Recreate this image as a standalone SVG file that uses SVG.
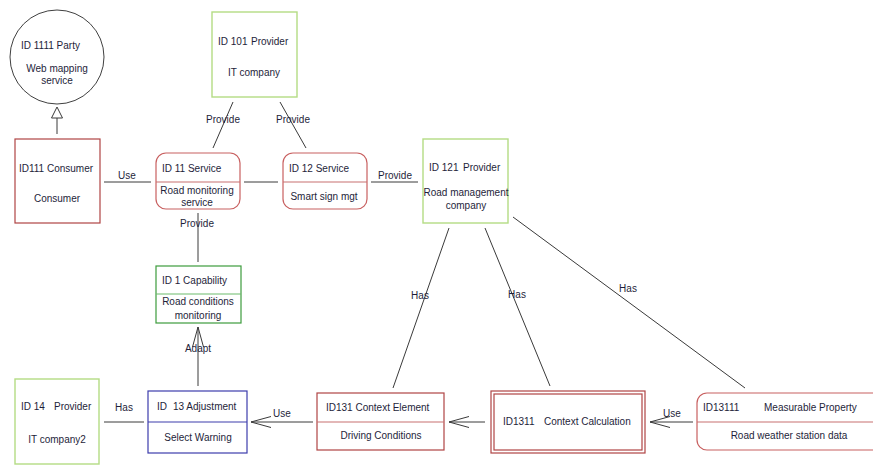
<svg xmlns="http://www.w3.org/2000/svg" width="873" height="466" viewBox="0 0 873 466">
<style>
text{font-family:"Liberation Sans",Arial,sans-serif;font-size:10px;fill:#1e1e3a}
.m{text-anchor:middle}
.red{fill:#fff;stroke:#b04444;stroke-width:1.2}
.redl{fill:#fff;stroke:#c86060;stroke-width:1.2}
.div{stroke:#c87070;stroke-width:1.2}
.grn{fill:#fff;stroke:#b4dc84;stroke-width:1.4}
.dgrn{fill:#fff;stroke:#3c9c3c;stroke-width:1.2}
.blu{fill:#fff;stroke:#3c3cac;stroke-width:1.2}
.c line{stroke:#3a3a3a;stroke-width:1}
</style>
<defs>
<marker id="open" viewBox="-21 -7 22 14" refX="0" refY="0" markerWidth="22" markerHeight="14" markerUnits="userSpaceOnUse" orient="auto">
<path d="M-20,-5.5 L0,0 L-20,5.5" fill="none" stroke="#3a3a3a" stroke-width="1"/>
</marker>
</defs>
<rect width="873" height="466" fill="#fff"/>
<g class="c" id="connectors">
<line x1="57" y1="134" x2="57" y2="118"/>
<polygon points="57,107 51.5,118 62.5,118" fill="#fff" stroke="#3a3a3a" stroke-width="1"/>
<line x1="104" y1="182" x2="151" y2="182"/>
<line x1="244" y1="182" x2="278" y2="182"/>
<line x1="371" y1="182" x2="418" y2="182"/>
<line x1="233" y1="102" x2="213" y2="148"/>
<line x1="280" y1="102" x2="306" y2="148"/>
<line x1="198" y1="213" x2="198" y2="262"/>
<line x1="198" y1="386" x2="198" y2="327" marker-end="url(#open)"/>
<line x1="104" y1="422" x2="144" y2="422"/>
<line x1="313" y1="422" x2="251" y2="422" marker-end="url(#open)"/>
<line x1="485" y1="422" x2="449" y2="422" marker-end="url(#open)"/>
<line x1="693" y1="422" x2="650" y2="422" marker-end="url(#open)"/>
<line x1="449" y1="228" x2="393" y2="388"/>
<line x1="485" y1="228" x2="550" y2="386"/>
<line x1="513" y1="217" x2="745" y2="388"/>
<text x="127" y="179" class="m">Use</text>
<text x="223" y="123" class="m">Provide</text>
<text x="293" y="123" class="m">Provide</text>
<text x="395" y="179" class="m">Provide</text>
<text x="197" y="227" class="m">Provide</text>
<text x="198" y="352" class="m">Adapt</text>
<text x="124" y="411" class="m">Has</text>
<text x="282" y="417" class="m">Use</text>
<text x="672" y="417" class="m">Use</text>
<text x="420" y="299" class="m">Has</text>
<text x="517" y="298" class="m">Has</text>
<text x="628" y="292" class="m">Has</text>
</g>
<g id="n1111">
<circle cx="57" cy="57" r="47" fill="#fff" stroke="#404040" stroke-width="1"/>
<text x="21" y="49">ID 1111 Party</text>
<text x="57" y="72" class="m">Web mapping</text>
<text x="57" y="84" class="m">service</text>
</g>
<g id="n111">
<rect x="15" y="139" width="85" height="84" class="red"/>
<text x="56" y="172" class="m">ID111 Consumer</text>
<text x="57" y="202" class="m">Consumer</text>
</g>
<g id="n101">
<rect x="212" y="12" width="85" height="85" class="grn"/>
<text x="218" y="45">ID 101</text>
<text x="251" y="45">Provider</text>
<text x="254" y="76" class="m">IT company</text>
</g>
<g id="n11">
<rect x="156" y="153" width="84" height="56" rx="10" class="redl"/>
<line x1="156" y1="182" x2="240" y2="182" class="div"/>
<text x="162" y="172">ID 11 Service</text>
<text x="197" y="194" class="m">Road monitoring</text>
<text x="197" y="206" class="m">service</text>
</g>
<g id="n12">
<rect x="283" y="153" width="84" height="56" rx="10" class="redl"/>
<line x1="283" y1="182" x2="367" y2="182" class="div"/>
<text x="289" y="172">ID 12 Service</text>
<text x="324" y="200" class="m">Smart sign mgt</text>
</g>
<g id="n121">
<rect x="423" y="139" width="85" height="84" class="grn"/>
<text x="429" y="171">ID 121</text>
<text x="463" y="171">Provider</text>
<text x="466" y="196" class="m">Road management</text>
<text x="466" y="209" class="m">company</text>
</g>
<g id="n1">
<rect x="156" y="266" width="85" height="57" class="dgrn"/>
<line x1="156" y1="294" x2="241" y2="294" stroke="#6cbc6c" stroke-width="1.2"/>
<text x="162" y="284">ID 1 Capability</text>
<text x="198" y="305" class="m">Road conditions</text>
<text x="198" y="319" class="m">monitoring</text>
</g>
<g id="n14">
<rect x="15" y="379" width="84" height="85" class="grn"/>
<text x="21" y="410">ID 14</text>
<text x="54" y="410">Provider</text>
<text x="57" y="443" class="m">IT company2</text>
</g>
<g id="n13">
<rect x="148" y="391" width="99" height="62" class="blu"/>
<line x1="148" y1="422" x2="247" y2="422" stroke="#3c3cac" stroke-width="1.2"/>
<text x="157" y="410">ID</text>
<text x="173" y="410">13 Adjustment</text>
<text x="198" y="441" class="m">Select Warning</text>
</g>
<g id="n131">
<rect x="317" y="393" width="127" height="57" class="red"/>
<line x1="317" y1="422" x2="444" y2="422" class="div"/>
<text x="326" y="411">ID131 Context Element</text>
<text x="381" y="439" class="m">Driving Conditions</text>
</g>
<g id="n1311">
<rect x="491" y="391" width="154" height="62" class="red"/>
<rect x="494" y="394" width="148" height="56" class="red"/>
<text x="503" y="425">ID1311</text>
<text x="544" y="425">Context Calculation</text>
</g>
<g id="n13111">
<rect x="697" y="393" width="190" height="57" rx="10" class="redl"/>
<line x1="697" y1="422" x2="887" y2="422" class="div"/>
<text x="703" y="411">ID13111</text>
<text x="764" y="411">Measurable Property</text>
<text x="789" y="439" class="m">Road weather station data</text>
</g>
</svg>
